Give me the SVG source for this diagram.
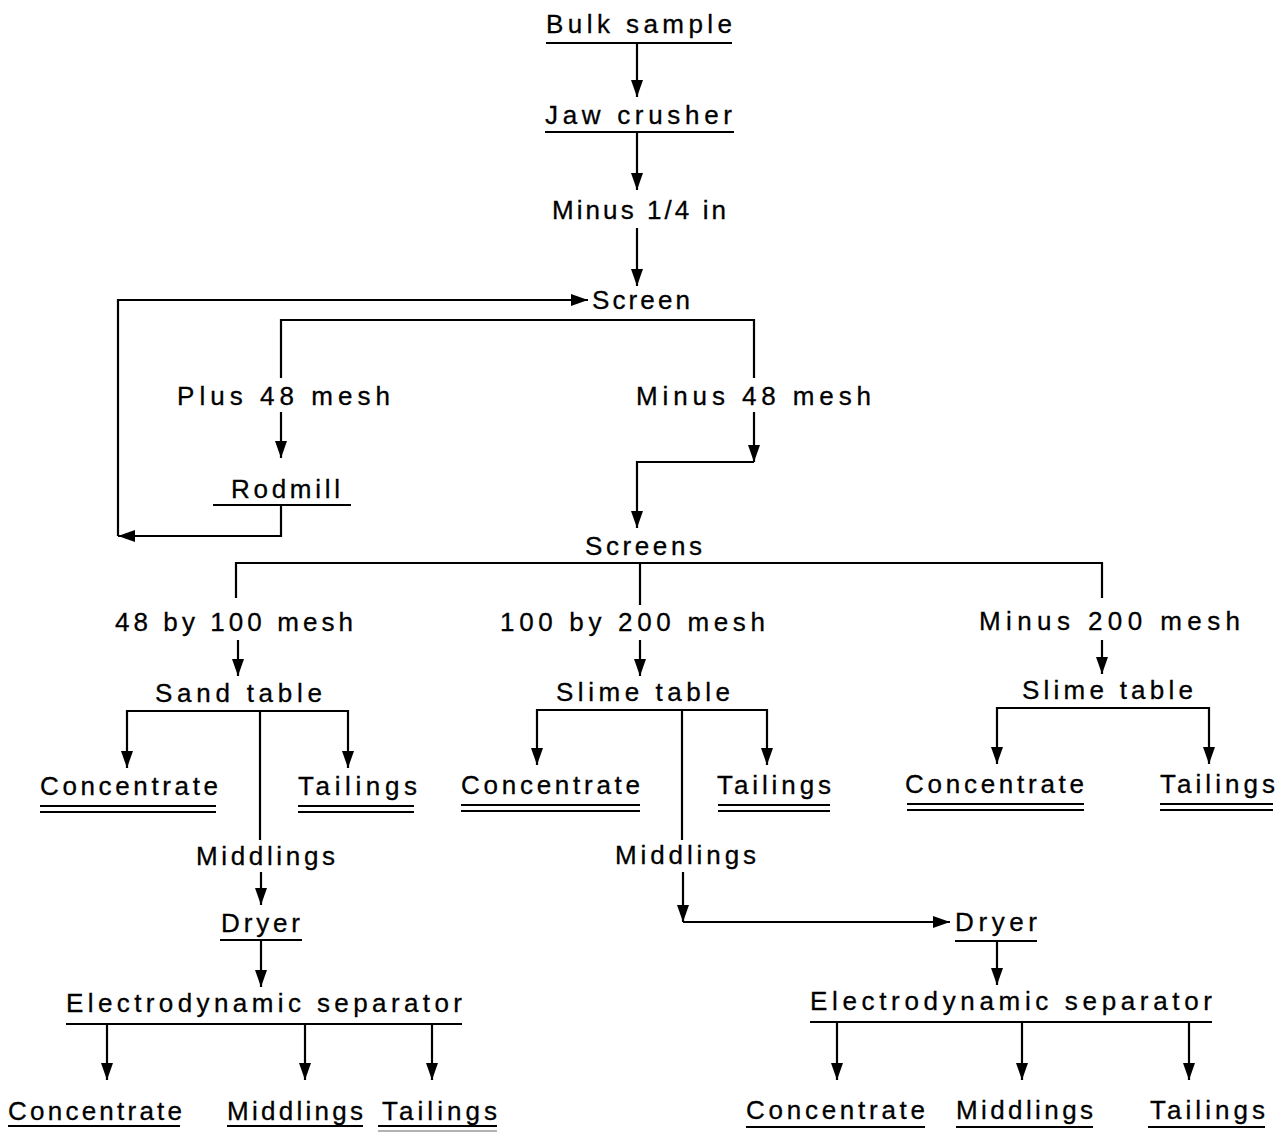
<svg xmlns="http://www.w3.org/2000/svg" width="1281" height="1134" viewBox="0 0 1281 1134">
<style>
text{font-family:"Liberation Sans","DejaVu Sans",sans-serif;font-size:26px;fill:#000;stroke:#000;stroke-width:0.3}
.u{stroke:#000;stroke-width:2.2;fill:none}
.c{stroke:#000;stroke-width:2.2;fill:none}
.a{marker-end:url(#arr)}
</style>
<defs>
<marker id="arr" viewBox="0 0 17 12" refX="17" refY="6" markerWidth="17" markerHeight="12" markerUnits="userSpaceOnUse" orient="auto">
<path d="M0,0 L17,6 L0,12 z" fill="#000"/>
</marker>
</defs>
<rect width="1281" height="1134" fill="#fff"/>
<g id="connectors">
<path class="c a" d="M637,43 V97"/>
<path class="c a" d="M637,133 V190"/>
<path class="c a" d="M637,228 V286"/>
<path class="c a" d="M281,505 V536 H118"/>
<path class="c a" d="M118,536 V300 H588"/>
<path class="c" d="M281,378 V320 H754 V378"/>
<path class="c a" d="M281,412 V458"/>
<path class="c a" d="M754,412 V462"/>
<path class="c a" d="M754,462 H637 V528"/>
<path class="c" d="M236,598 V563 H1102 V598"/>
<path class="c" d="M640,563 V605"/>
<path class="c a" d="M238,640 V676"/>
<path class="c a" d="M640,640 V676"/>
<path class="c a" d="M1102,640 V674"/>
<path class="c a" d="M260,711 H127 V768"/>
<path class="c a" d="M260,711 H348 V768"/>
<path class="c" d="M260,711 V840"/>
<path class="c a" d="M682,710 H537 V765"/>
<path class="c a" d="M682,710 H767 V765"/>
<path class="c" d="M682,710 V840"/>
<path class="c a" d="M1103,708 H997 V764"/>
<path class="c a" d="M1103,708 H1209 V764"/>
<path class="c a" d="M261,872 V905"/>
<path class="c a" d="M261,940 V987"/>
<path class="c a" d="M107,1024 V1080"/>
<path class="c a" d="M305,1024 V1080"/>
<path class="c a" d="M432,1024 V1080"/>
<path class="c a" d="M683,872 V922"/>
<path class="c a" d="M683,922 H950"/>
<path class="c a" d="M997,941 V985"/>
<path class="c a" d="M837,1022 V1080"/>
<path class="c a" d="M1022,1022 V1080"/>
<path class="c a" d="M1189,1022 V1080"/>
</g>
<g id="bulk-sample"><text x="546" y="33" textLength="186" lengthAdjust="spacing">Bulk sample</text><line class="u" x1="546" y1="43" x2="732" y2="43"/></g>
<g id="jaw-crusher"><text x="545" y="124" textLength="187" lengthAdjust="spacing">Jaw crusher</text><line class="u" x1="545" y1="132" x2="734" y2="132"/></g>
<g id="minus-quarter"><text x="552" y="219" textLength="174" lengthAdjust="spacing">Minus 1/4 in</text></g>
<g id="screen"><text x="592" y="309" textLength="98" lengthAdjust="spacing">Screen</text></g>
<g id="plus48"><text x="177" y="405" textLength="213" lengthAdjust="spacing">Plus 48 mesh</text></g>
<g id="minus48"><text x="636" y="405" textLength="235" lengthAdjust="spacing">Minus 48 mesh</text></g>
<g id="rodmill"><text x="231" y="498" textLength="109" lengthAdjust="spacing">Rodmill</text><line class="u" x1="213" y1="505" x2="351" y2="505"/></g>
<g id="screens"><text x="585" y="555" textLength="117" lengthAdjust="spacing">Screens</text></g>
<g id="m48x100"><text x="115" y="631" textLength="238" lengthAdjust="spacing">48 by 100 mesh</text></g>
<g id="m100x200"><text x="500" y="631" textLength="265" lengthAdjust="spacing">100 by 200 mesh</text></g>
<g id="minus200"><text x="979" y="630" textLength="261" lengthAdjust="spacing">Minus 200 mesh</text></g>
<g id="sand-table"><text x="155" y="702" textLength="167" lengthAdjust="spacing">Sand table</text></g>
<g id="slime-table-1"><text x="556" y="701" textLength="174" lengthAdjust="spacing">Slime table</text></g>
<g id="slime-table-2"><text x="1022" y="699" textLength="171" lengthAdjust="spacing">Slime table</text></g>
<g id="conc-1"><text x="40" y="795" textLength="178" lengthAdjust="spacing">Concentrate</text><line class="u" x1="40" y1="806" x2="216" y2="806"/><line class="u" x1="40" y1="812" x2="216" y2="812"/></g>
<g id="tail-1"><text x="298" y="795" textLength="119" lengthAdjust="spacing">Tailings</text><line class="u" x1="298" y1="806" x2="414" y2="806"/><line class="u" x1="298" y1="812" x2="414" y2="812"/></g>
<g id="conc-2"><text x="461" y="794" textLength="179" lengthAdjust="spacing">Concentrate</text><line class="u" x1="461" y1="805" x2="640" y2="805"/><line class="u" x1="461" y1="811" x2="640" y2="811"/></g>
<g id="tail-2"><text x="717" y="794" textLength="114" lengthAdjust="spacing">Tailings</text><line class="u" x1="718" y1="805" x2="830" y2="805"/><line class="u" x1="718" y1="811" x2="830" y2="811"/></g>
<g id="conc-3"><text x="905" y="793" textLength="179" lengthAdjust="spacing">Concentrate</text><line class="u" x1="907" y1="804" x2="1084" y2="804"/><line class="u" x1="907" y1="810" x2="1084" y2="810"/></g>
<g id="tail-3"><text x="1160" y="793" textLength="115" lengthAdjust="spacing">Tailings</text><line class="u" x1="1160" y1="804" x2="1273" y2="804"/><line class="u" x1="1160" y1="810" x2="1273" y2="810"/></g>
<g id="midd-1"><text x="196" y="865" textLength="139" lengthAdjust="spacing">Middlings</text></g>
<g id="dryer-1"><text x="221" y="932" textLength="79" lengthAdjust="spacing">Dryer</text><line class="u" x1="220" y1="940" x2="302" y2="940"/></g>
<g id="eds-1"><text x="66" y="1012" textLength="396" lengthAdjust="spacing">Electrodynamic separator</text><line class="u" x1="66" y1="1024" x2="462" y2="1024"/></g>
<g id="conc-4"><text x="8" y="1120" textLength="174" lengthAdjust="spacing">Concentrate</text><line class="u" x1="8" y1="1126" x2="180" y2="1126"/></g>
<g id="midd-2"><text x="227" y="1120" textLength="136" lengthAdjust="spacing">Middlings</text><line class="u" x1="227" y1="1126" x2="363" y2="1126"/></g>
<g id="tail-4"><text x="382" y="1120" textLength="115" lengthAdjust="spacing">Tailings</text><line class="u" x1="378" y1="1126" x2="497" y2="1126"/><line x1="378" y1="1131" x2="497" y2="1131" stroke="#999" stroke-width="1.5"/></g>
<g id="midd-3"><text x="615" y="864" textLength="141" lengthAdjust="spacing">Middlings</text></g>
<g id="dryer-2"><text x="955" y="931" textLength="82" lengthAdjust="spacing">Dryer</text><line class="u" x1="955" y1="941" x2="1037" y2="941"/></g>
<g id="eds-2"><text x="810" y="1010" textLength="402" lengthAdjust="spacing">Electrodynamic separator</text><line class="u" x1="810" y1="1022" x2="1212" y2="1022"/></g>
<g id="conc-5"><text x="746" y="1119" textLength="179" lengthAdjust="spacing">Concentrate</text><line class="u" x1="746" y1="1127" x2="925" y2="1127"/></g>
<g id="midd-4"><text x="956" y="1119" textLength="137" lengthAdjust="spacing">Middlings</text><line class="u" x1="956" y1="1127" x2="1093" y2="1127"/></g>
<g id="tail-5"><text x="1150" y="1119" textLength="115" lengthAdjust="spacing">Tailings</text><line class="u" x1="1148" y1="1127" x2="1265" y2="1127"/></g>
</svg>
